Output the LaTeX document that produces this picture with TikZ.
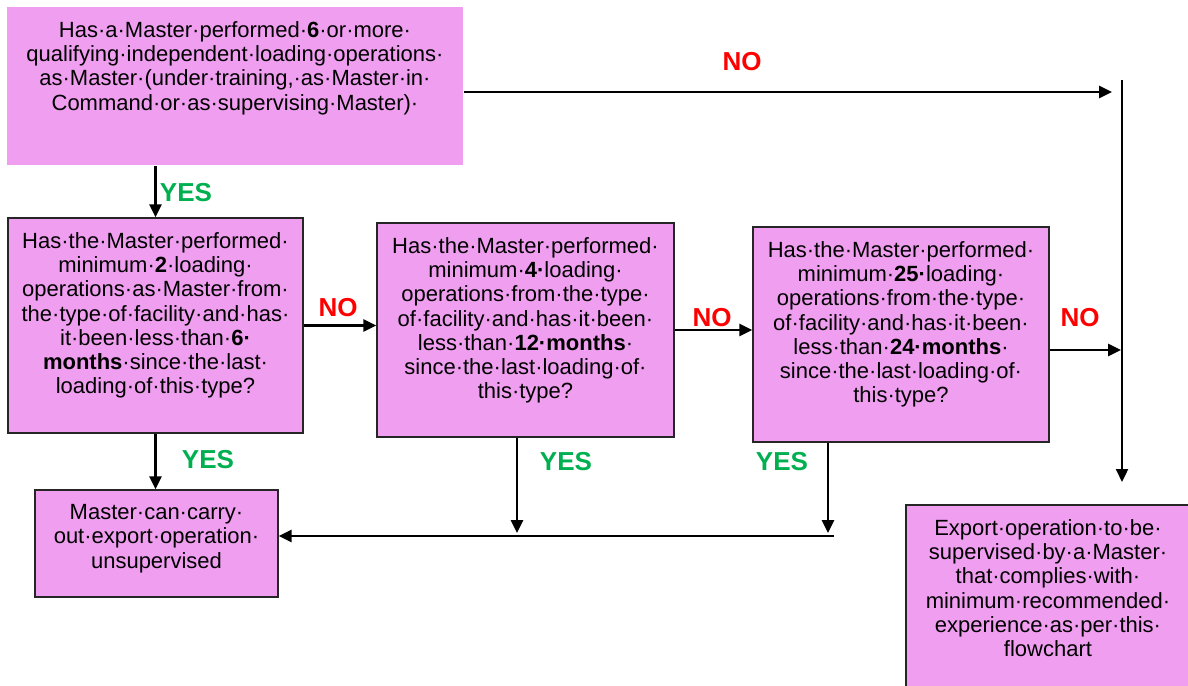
\documentclass[tikz,border=0pt]{standalone}
\usepackage{fontspec}
\setmainfont{Liberation Sans}
\usetikzlibrary{arrows.meta}
\definecolor{boxpink}{RGB}{240,158,240}
\definecolor{yesgreen}{RGB}{0,176,80}
\definecolor{nored}{RGB}{255,0,0}

\begin{document}
\begin{tikzpicture}[x=1pt,y=-1pt,
   qbox/.style={draw=black!85,line width=1.3pt,fill=boxpink,inner sep=0pt},
   qtext/.style={anchor=north,inner sep=0pt,align=center,yshift=-15pt,
      font=\fontsize{22}{24.2}\selectfont},
   arr/.style={line width=2.8pt,-{Triangle[length=13pt,width=12pt]}},
   yes/.style={text=yesgreen,font=\fontsize{26}{28}\selectfont\bfseries},
   no/.style={text=nored,font=\fontsize{26}{28}\selectfont\bfseries}]
   \useasboundingbox (0,0) rectangle (1188,685);

   \node[qbox,draw=none,minimum width=456pt,minimum height=158pt] (q1) at (235,86) {};
   \node[qtext,text width=450pt] (q1t) at (q1.north) {Has·a·Master·performed·\textbf{6}·or·more·\\
      qualifying·independent·loading·operations·\\
      as·Master·(under·training,·as·Master·in·\\
      Command·or·as·supervising·Master)·};

   \node[qbox,minimum width=295pt,minimum height=215pt] (q2) at (155.5,325.5) {};
   \node[qtext,text width=290pt] (q2t) at (q2.north) {Has·the·Master·performed·\\
      minimum·\textbf{2}·loading·\\
      operations·as·Master·from·\\
      the·type·of·facility·and·has·\\
      it·been·less·than·\textbf{6·}\\
      \textbf{months}·since·the·last·\\
      loading·of·this·type?};

   \node[qbox,minimum width=297pt,minimum height=214pt] (q3) at (525.5,330) {};
   \node[qtext,text width=292pt] (q3t) at (q3.north) {Has·the·Master·performed·\\
      minimum·\textbf{4·}loading·\\
      operations·from·the·type·\\
      of·facility·and·has·it·been·\\
      less·than·\textbf{12·months}·\\
      since·the·last·loading·of·\\
      this·type?};

   \node[qbox,minimum width=296pt,minimum height=215pt] (q4) at (901,334.5) {};
   \node[qtext,text width=291pt] (q4t) at (q4.north) {Has·the·Master·performed·\\
      minimum·\textbf{25·}loading·\\
      operations·from·the·type·\\
      of·facility·and·has·it·been·\\
      less·than·\textbf{24·months}·\\
      since·the·last·loading·of·\\
      this·type?};

   \node[qbox,minimum width=243pt,minimum height=107pt] (ok) at (156.5,543.5) {};
   \node[qtext,text width=238pt] (okt) at (ok.north) {Master·can·carry·\\
      out·export·operation·\\
      unsupervised};

   \node[qbox,minimum width=284pt,minimum height=190pt] (sup) at (1048,600) {};
   \node[qtext,text width=279pt] (supt) at (sup.north) {Export·operation·to·be·\\
      supervised·by·a·Master·\\
      that·complies·with·\\
      minimum·recommended·\\
      experience·as·per·this·\\
      flowchart};

   \coordinate (bustop) at (1122,80);
   \coordinate (busend) at (1122,482);
   \coordinate (no1end) at (1112,92);
   \coordinate (no4end) at (1121,350);
   \coordinate (yes3end) at (517,533);
   \coordinate (yes4end) at (828,533);
   \coordinate (join) at (834,536);

   \draw[arr] (q1.east |- no1end) -- (no1end);
   \draw[arr,line width=2.3pt] (bustop) -- (busend);
   \draw[arr] (q2.north |- q1.south) -- (q2.north);
   \draw[arr] (q2.east) -- (q3.west |- q2.east);
   \draw[arr] (q3.east) -- (q4.west |- q3.east);
   \draw[arr] (q4.east |- no4end) -- (no4end);
   \draw[arr] (q2.south) -- (q2.south |- ok.north);
   \draw[arr] (q3.south -| yes3end) -- (yes3end);
   \draw[arr] (q4.south -| yes4end) -- (yes4end);
   \draw[arr] (join) -- (ok.east |- join);

   \node[no] (no1) at (742,62) {NO};
   \node[yes] (yes1) at (186,193) {YES};
   \node[no] (no2) at (338,308) {NO};
   \node[no] (no3) at (712,318) {NO};
   \node[no] (no4) at (1080,318) {NO};
   \node[yes] (yes2) at (208,460) {YES};
   \node[yes] (yes3) at (566,462) {YES};
   \node[yes] (yes4) at (782,462) {YES};
\end{tikzpicture}
\end{document}
